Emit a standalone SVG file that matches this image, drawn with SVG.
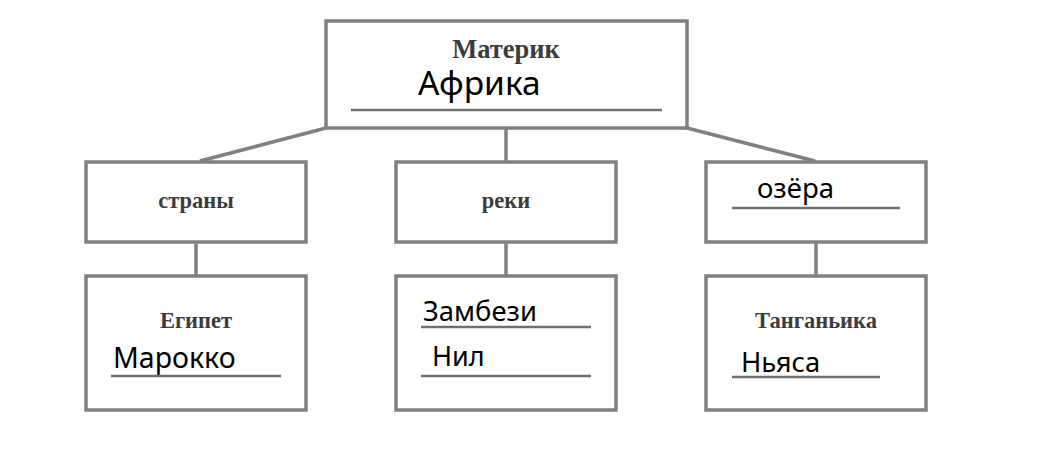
<svg xmlns="http://www.w3.org/2000/svg" width="1049" height="466" viewBox="0 0 1049 466">
<style>
.box{fill:#fff;stroke:#808080;stroke-width:3.5}
.con{stroke:#808080;stroke-width:3.5;fill:none}
.ul{stroke:#707070;stroke-width:2.5}
.lbl{font-family:"Liberation Serif",serif;font-weight:bold;fill:#3c3c3c;text-anchor:middle;font-size:22.5px}
.big{font-size:26.5px}
.hw{font-family:"Noto Sans","Open Sans",sans-serif;fill:#000}
</style>
<rect width="1049" height="466" fill="#fff"/>
<g id="connectors">
<line class="con" x1="326" y1="128" x2="200" y2="161"/>
<line class="con" x1="506" y1="128" x2="506" y2="161"/>
<line class="con" x1="687" y1="128" x2="815" y2="161"/>
<line class="con" x1="196" y1="242" x2="196" y2="275"/>
<line class="con" x1="506" y1="242" x2="506" y2="275"/>
<line class="con" x1="816" y1="242" x2="816" y2="275"/>
</g>
<g id="materik">
<rect class="box" x="326" y="21" width="361" height="107"/>
<text class="lbl big" x="506" y="58">Материк</text>
<text class="hw" x="418" y="95" font-size="33.5">Африка</text>
<line class="ul" x1="351" y1="110" x2="662" y2="110"/>
</g>
<g id="strany">
<rect class="box" x="86" y="162" width="220" height="80"/>
<text class="lbl" x="196" y="208">страны</text>
</g>
<g id="reki">
<rect class="box" x="396" y="162" width="220" height="80"/>
<text class="lbl" x="506" y="208">реки</text>
</g>
<g id="ozera">
<rect class="box" x="706" y="162" width="220" height="80"/>
<text class="hw" x="757" y="198" font-size="27.5">озёра</text>
<line class="ul" x1="732" y1="208" x2="900" y2="208"/>
</g>
<g id="strany-list">
<rect class="box" x="86" y="276" width="220" height="134"/>
<text class="lbl" x="196" y="328">Египет</text>
<text class="hw" x="113" y="368" font-size="28.5">Марокко</text>
<line class="ul" x1="111" y1="376" x2="281" y2="376"/>
</g>
<g id="reki-list">
<rect class="box" x="396" y="276" width="220" height="134"/>
<text class="hw" x="423" y="321" font-size="27.4">Замбези</text>
<line class="ul" x1="421" y1="327" x2="591" y2="327"/>
<text class="hw" x="432" y="366" font-size="27">Нил</text>
<line class="ul" x1="421" y1="376" x2="591" y2="376"/>
</g>
<g id="ozera-list">
<rect class="box" x="706" y="276" width="220" height="134"/>
<text class="lbl" x="816" y="328">Танганьика</text>
<text class="hw" x="741" y="372" font-size="27.4">Ньяса</text>
<line class="ul" x1="732" y1="377" x2="880" y2="377"/>
</g>
</svg>
